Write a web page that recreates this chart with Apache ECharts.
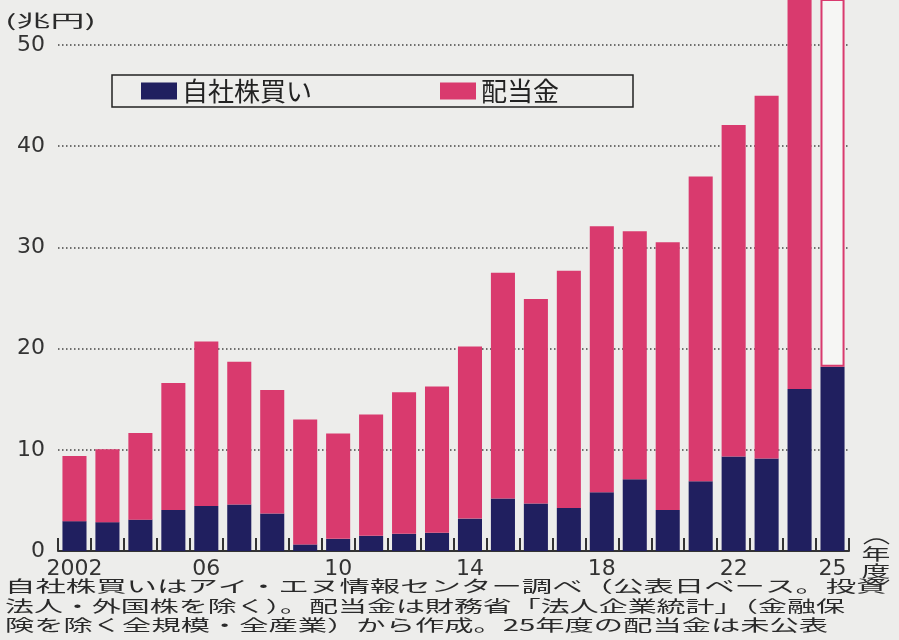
<!DOCTYPE html>
<html>
<head>
<meta charset="utf-8">
<script src="https://cdn.jsdelivr.net/npm/echarts@6/dist/echarts.min.js"></script>
<style>
  html, body { margin: 0; padding: 0; background: #ededeb; }
  #chart { width: 899px; height: 640px; }
</style>
</head>
<body>
<div id="chart"></div>
<script>
// ---- data (兆円) ----
const years = ['2002','2003','2004','2005','2006','2007','2008','2009','2010','2011','2012','2013',
               '2014','2015','2016','2017','2018','2019','2020','2021','2022','2023','2024','2025'];
const xTickLabels = ['2002','','','','06','','','','10','','','','14','','','','18','','','','22','','','25'];
const buyback = [2.95, 2.85, 3.1, 4.05, 4.45, 4.6, 3.7, 0.65, 1.2, 1.5, 1.7, 1.8,
                 3.2, 5.2, 4.7, 4.25, 5.8, 7.1, 4.05, 6.9, 9.35, 9.15, 16.0, 18.2];
// 2024 runs off the top of the chart (estimated); 2025 dividends not yet published
const dividend = [6.45, 7.2, 8.55, 12.55, 16.25, 14.1, 12.2, 12.35, 10.4, 12.0, 14.0, 14.45,
                  17.0, 22.3, 20.2, 23.45, 26.3, 24.5, 26.45, 30.1, 32.75, 35.85, 42.0, null];
// outline bar for the unpublished 2025 dividend (runs off the top of the chart)
const unpublished = [null,null,null,null,null,null,null,null,null,null,null,null,
                     null,null,null,null,null,null,null,null,null,null,null,40];
const seriesNames = ['自社株買い', '配当金'];
const unitLabel = '(兆円)';
const noteLines = [
  '自社株買いはアイ・エヌ情報センター調べ（公表日ベース。投資',
  '法人・外国株を除く）。配当金は財務省「法人企業統計」（金融保',
  '険を除く全規模・全産業）から作成。25年度の配当金は未公表'
];
const noteScale = [1.90, 1.81, 1.83];

const NAVY = '#201f5f';
const PINK = '#d93a6e';
const INK = '#2a2a2a';
const CJK = '"Noto Sans CJK JP", sans-serif';

const chart = echarts.init(document.getElementById('chart'));

function txt(t, x, y, size, sx, align) {
  return {
    type: 'text', x: x, y: y, scaleX: sx,
    style: { text: t, font: size + 'px ' + CJK, fill: INK,
             textAlign: align, textVerticalAlign: 'middle', align: align, verticalAlign: 'middle' }
  };
}
function arc(x1, x2, y, cy) {
  return {
    type: 'bezierCurve',
    shape: { x1: x1, y1: y, x2: x2, y2: y, cpx1: (x1 + x2) / 2, cpy1: cy },
    style: { stroke: INK, lineWidth: 1.5, fill: null }
  };
}

const graphics = [
  txt(unitLabel, 5, 21, 17, 2.0, 'left'),
  arc(864, 889, 544, 534),
  txt('年', 876, 554, 16, 1.8, 'center'),
  txt('度', 876, 571, 16, 1.8, 'center'),
  arc(864, 889, 580, 590)
];
const noteY = [586, 606, 625];
noteLines.forEach((t, i) => graphics.push(txt(t, 5, noteY[i], 16, noteScale[i], 'left')));

chart.setOption({
  backgroundColor: '#ededeb',
  animation: false,
  grid: { left: 58, right: 50, top: 0, bottom: 89, containLabel: false },
  legend: {
    data: seriesNames,
    left: 112, top: 75,
    orient: 'horizontal',
    itemWidth: 36, itemHeight: 17, itemGap: 128, itemTextGap: 5,
    padding: [3, 74, 3, 29],
    borderColor: '#222', borderWidth: 1.5, borderRadius: 0,
    icon: 'rect',
    textStyle: { fontSize: 26, fontFamily: CJK, color: '#222' }
  },
  xAxis: {
    type: 'category',
    data: years,
    boundaryGap: true,
    axisLine: { show: true, lineStyle: { color: '#333', width: 2 } },
    axisTick: { show: true, inside: true, length: 13, interval: 0, lineStyle: { color: '#333', width: 2 } },
    axisLabel: {
      interval: 0, margin: 7, fontSize: 22, fontFamily: 'DejaVu Sans', color: '#333',
      formatter: (v, i) => xTickLabels[i]
    },
    splitLine: { show: false }
  },
  yAxis: {
    type: 'value',
    min: 0, max: 54.45, interval: 10,
    axisLine: { show: false },
    axisTick: { show: false },
    axisLabel: {
      margin: 13, fontSize: 22, fontFamily: 'DejaVu Sans', color: '#333',
      showMaxLabel: false,
      formatter: v => (v % 10 === 0 ? String(v) : '')
    },
    splitLine: { show: true, showMinLine: false, showMaxLine: false,
      lineStyle: { color: '#444', width: 1.5, type: [1.5, 2.5] } }
  },
  series: [
    { name: seriesNames[0], type: 'bar', stack: 'total', data: buyback, barWidth: '73%',
      itemStyle: { color: NAVY } },
    { name: seriesNames[1], type: 'bar', stack: 'total', data: dividend, barWidth: '73%',
      itemStyle: { color: PINK } },
    { name: '未公表', type: 'bar', stack: 'total', data: unpublished, barWidth: '73%',
      itemStyle: { color: '#f6f6f4', borderColor: PINK, borderWidth: 2 } }
  ],
  graphic: graphics
});
</script>
</body>
</html>
